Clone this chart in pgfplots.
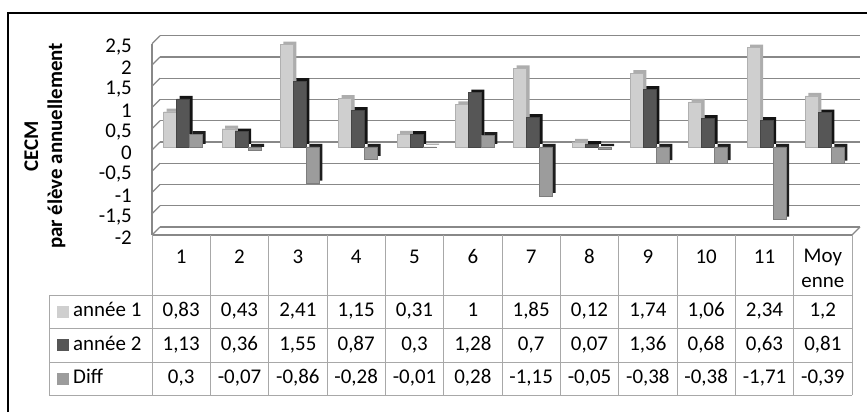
\documentclass[border=0pt]{standalone}
\usepackage{pgfplots}
\pgfplotsset{compat=1.18}
\usepackage{pgfplotstable}
\usepackage{fontspec}
\setmainfont{Carlito}
\definecolor{cA}{HTML}{CFCFCF}
\definecolor{cAs}{HTML}{ADADAD}
\definecolor{cB}{HTML}{565656}
\definecolor{cBs}{HTML}{141414}
\definecolor{cC}{HTML}{9C9C9C}
\definecolor{cCs}{HTML}{1E1E1E}
\definecolor{gridc}{HTML}{888888}
\definecolor{tabc}{HTML}{A8A8A8}

\pgfplotstableread{
x a b d
0 0.83 1.13 0.3
1 0.43 0.36 -0.07
2 2.41 1.55 -0.86
3 1.15 0.87 -0.28
4 0.31 0.3 -0.01
5 1 1.28 0.28
6 1.85 0.7 -1.15
7 0.12 0.07 -0.05
8 1.74 1.36 -0.38
9 1.06 0.68 -0.38
10 2.34 0.63 -1.71
11 1.2 0.81 -0.39
}\data

\begin{document}
\fontsize{21}{24}\selectfont
\begin{tikzpicture}
\begin{axis}[
  at={(152bp,177bp)}, anchor=south west,
  scale only axis, width=700bp, height=191.25bp,
  xmin=-0.5, xmax=11.5, ymin=-2, ymax=2.5,
  ytick={-2,-1.5,-1,-0.5,0,0.5,1,1.5,2,2.5},
  xtick=\empty,
  ymajorgrids,
  major grid style={draw=gridc, line width=1.3bp, xshift=8bp, yshift=8bp},
  axis x line*=bottom, axis y line*=left,
  axis line style={draw=gridc, line width=1.3bp, -},
  major tick length=0pt,
  yticklabel style={/pgf/number format/use comma, /pgf/number format/assume math mode=true,
     font=\fontsize{21}{24}\selectfont, xshift=-13bp, yshift=-3bp},
  clip=false,
]
\pgfplotsinvokeforeach{-2,-1.5,-1,-0.5,0,0.5,1,1.5,2,2.5}{
  \draw[gridc, line width=1.3bp] (axis cs:-0.5,#1) -- ++(8bp,8bp);
}
\draw[gridc, line width=1.3bp] (axis cs:11.5,-2) -- ++(8bp,8bp);
% année 1
\addplot[ybar, bar width=13bp, bar shift=-8bp, fill=cAs, draw=none, yshift=6bp] table[x=x,y=a]{\data};
\addplot[ybar, bar width=13bp, bar shift=-11bp, fill=cA, draw=cA!85!black, line width=0.4bp, yshift=3bp] table[x=x,y=a]{\data};
% année 2
\addplot[ybar, bar width=13bp, bar shift=5bp, fill=cBs, draw=none, yshift=6bp] table[x=x,y=b]{\data};
\addplot[ybar, bar width=13bp, bar shift=2bp, fill=cB, draw=cB!80!black, line width=0.4bp, yshift=3bp] table[x=x,y=b]{\data};
% Diff
\addplot[ybar, bar width=13bp, bar shift=18bp, fill=cCs, draw=none, yshift=6bp] table[x=x,y=d]{\data};
\addplot[ybar, bar width=13bp, bar shift=15bp, fill=cC, draw=cC!80!black, line width=0.4bp, yshift=3bp] table[x=x,y=d]{\data};
\end{axis}

\begin{scope}[x=1bp,y=1bp, every node/.style={text height=0.68em, text depth=0.2em, inner sep=0pt}]
\draw[line width=2.5bp] (8,0) -- (8,399) -- (867,399);
% y label
\node[rotate=90, font=\bfseries\fontsize{21}{24}\selectfont] at (33,266) {CECM};
\node[rotate=90, font=\bfseries\fontsize{21}{24}\selectfont] at (57,266) {par élève annuellement};

% data table
\begin{scope}[tabc, line width=1bp]
\foreach \i in {0,...,12} {\draw (152+\i*58.3333,177) -- (152+\i*58.3333,17);}
\foreach \yy in {117,84,50,17} {\draw (49,\yy) -- (852,\yy);}
\draw (49,117) -- (49,17);
\end{scope}
\foreach \t [count=\i] in {1,2,3,4,5,6,7,8,9,10,11} {
  \node at (152+\i*58.3333-29.1667,154) {\t};
}
\node at (152+11.5*58.3333,155) {Moy};
\node at (152+11.5*58.3333,130) {enne};
\foreach \t [count=\i] in {{0,83},{0,43},{2,41},{1,15},{0,31},{1},{1,85},{0,12},{1,74},{1,06},{2,34},{1,2}} {
  \node at (152+\i*58.3333-29.1667,100.5) {\t};
}
\foreach \t [count=\i] in {{1,13},{0,36},{1,55},{0,87},{0,3},{1,28},{0,7},{0,07},{1,36},{0,68},{0,63},{0,81}} {
  \node at (152+\i*58.3333-29.1667,67) {\t};
}
\foreach \t [count=\i] in {{0,3},{-0,07},{-0,86},{-0,28},{-0,01},{0,28},{-1,15},{-0,05},{-0,38},{-0,38},{-1,71},{-0,39}} {
  \node at (152+\i*58.3333-29.1667,33.5) {\t};
}
\fill[cA] (57,94.5) rectangle (69,106.5);
\fill[cB] (57,61) rectangle (69,73);
\fill[cC] (57,27.5) rectangle (69,39.5);
\node[anchor=west] at (73,100.5) {année 1};
\node[anchor=west] at (73,67) {année 2};
\node[anchor=west] at (73,33.5) {Diff};
\pgfresetboundingbox
\useasboundingbox (0,0) rectangle (867,412);
\end{scope}
\end{tikzpicture}
\end{document}
